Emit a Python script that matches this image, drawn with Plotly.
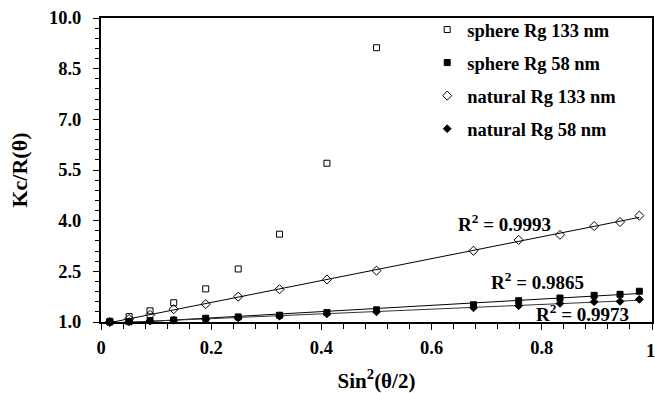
import numpy as np
import plotly.graph_objects as go

# sin^2(theta/2) values
x_vals = [0.016, 0.051, 0.089, 0.132, 0.19, 0.249, 0.324, 0.41, 0.50,
          0.676, 0.758, 0.833, 0.895, 0.942, 0.977]

sphere133_x = [0.016, 0.051, 0.089, 0.132, 0.19, 0.249, 0.324, 0.41, 0.50]
sphere133_y = [1.02, 1.16, 1.33, 1.57, 1.98, 2.57, 3.60, 5.70, 9.12]

sphere58_y = [1.00, 1.01, 1.04, 1.06, 1.11, 1.15, 1.20, 1.28, 1.36,
              1.51, 1.63, 1.71, 1.79, 1.82, 1.91]
natural133_y = [1.00, 1.09, 1.21, 1.38, 1.53, 1.75, 1.97, 2.26, 2.52,
                3.11, 3.43, 3.58, 3.84, 3.96, 4.15]
natural58_y = [1.00, 1.01, 1.03, 1.05, 1.08, 1.12, 1.17, 1.24, 1.30,
               1.42, 1.48, 1.55, 1.60, 1.61, 1.67]

r2_labels = ["R<sup>2</sup> = 0.9993", "R<sup>2</sup> = 0.9865", "R<sup>2</sup> = 0.9973"]
r2_pos_x = [0.733, 0.793, 0.873]
r2_pos_y = [3.93, 2.21, 1.27]

y_tickvals = [1.0, 2.5, 4.0, 5.5, 7.0, 8.5, 10.0]
x_tickvals = [0, 0.2, 0.4, 0.6, 0.8, 1.0]
x_ticktext = ["0", "0.2", "0.4", "0.6", "0.8", ""]
x_last_label = "1"

FONT = "Liberation Serif"

fig = go.Figure()

def add_series(x, y, name, symbol, size, group):
    fig.add_trace(go.Scatter(
        x=x, y=y, mode="markers", name=name, legendgroup=group,
        marker=dict(symbol=symbol, size=size, color="black",
                    line=dict(color="black", width=1)),
        cliponaxis=False))

def add_trend(x, y, color):
    xa = np.array(x); ya = np.array(y)
    m, b = np.polyfit(xa, ya, 1)
    xs = np.array([xa.min(), xa.max()])
    fig.add_trace(go.Scatter(x=xs, y=m * xs + b, mode="lines", showlegend=False,
                             line=dict(color=color, width=1), hoverinfo="skip"))

add_trend(x_vals, natural133_y, "black")
add_trend(x_vals, sphere58_y, "black")
add_trend(x_vals, natural58_y, "#333333")

add_series(sphere133_x, sphere133_y, "sphere Rg 133 nm", "square-open", 6, "a")
add_series(x_vals, sphere58_y, "sphere Rg 58 nm", "square", 6, "b")
add_series(x_vals, natural133_y, "natural Rg 133 nm", "diamond-open", 7, "c")
add_series(x_vals, natural58_y, "natural Rg 58 nm", "diamond", 6, "d")

for t, ax, ay in zip(r2_labels, r2_pos_x, r2_pos_y):
    fig.add_annotation(x=ax, y=ay, text="<b>" + t + "</b>", showarrow=False,
                       font=dict(family=FONT, size=19, color="black"))

# last x tick label (at the right edge of the figure)
fig.add_annotation(x=1, y=0, xref="paper", yref="paper", xanchor="center",
                   yanchor="top", xshift=-2, yshift=-17, showarrow=False,
                   text="<b>" + x_last_label + "</b>",
                   font=dict(family=FONT, size=18.5, color="black"))

fig.update_layout(
    width=655, height=393,
    margin=dict(l=101, r=3, t=18, b=71, autoexpand=False),
    paper_bgcolor="white", plot_bgcolor="white",
    font=dict(family=FONT, size=18, color="black"),
    showlegend=True,
    legend=dict(x=0.592, y=1.023, xanchor="left", yanchor="top",
                bgcolor="rgba(0,0,0,0)", tracegroupgap=6,
                font=dict(family=FONT, size=18.5, color="black", weight="bold")),
    xaxis=dict(range=[0, 1], tickvals=x_tickvals, ticktext=x_ticktext,
               showgrid=False, zeroline=False, showline=True, linecolor="black",
               linewidth=2, mirror=True, ticks="outside", ticklen=6, tickwidth=1,
               tickcolor="black", ticklabelstandoff=2,
               tickfont=dict(family=FONT, size=18.5, weight="bold"),
               minor=dict(dtick=0.04, tick0=0, ticks="outside", ticklen=5,
                          tickcolor="black"),
               title=dict(text="<b>Sin<sup>2</sup>(θ/2)</b>", standoff=16,
                          font=dict(family=FONT, size=21))),
    yaxis=dict(range=[1, 10], tickvals=y_tickvals, tickformat=".1f",
               showgrid=False, zeroline=False, showline=True, linecolor="black",
               linewidth=2, mirror=True, ticks="outside", ticklen=6, tickwidth=1,
               tickcolor="black", ticklabelstandoff=8,
               tickfont=dict(family=FONT, size=18.5, weight="bold"),
               minor=dict(dtick=0.3, tick0=1, ticks="outside", ticklen=4,
                          tickcolor="black"),
               title=dict(text="<b>Kc/R(θ)</b>", standoff=15,
                          font=dict(family=FONT, size=22))),
)

# remove the default page margin so the 655x393 figure fills the window exactly
fig.write_html("out.html",
               config={"displayModeBar": False},
               post_script="document.body.style.margin='0';"
                           "document.body.style.overflow='hidden';")
